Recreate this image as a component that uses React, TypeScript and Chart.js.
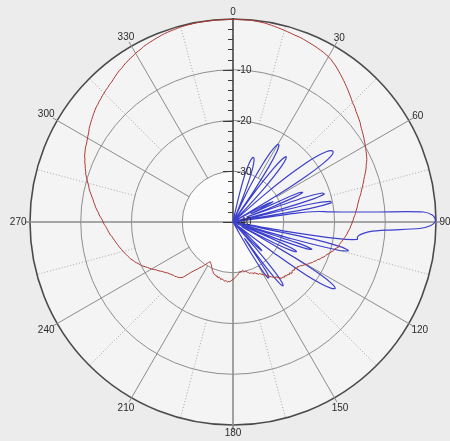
import React, { useEffect, useRef } from "react";
import { Chart, registerables } from "chart.js";

Chart.register(...registerables);

// one category per degree (0..359), clockwise from the top
const degreeLabels: string[] = Array.from({ length: 360 }, (_, i) => String(i));
const angleTickDegrees = [0, 30, 60, 90, 120, 150, 180, 210, 240, 270, 300, 330];
const angleTickLabels = ["0", "30", "60", "90", "120", "150", "180", "210", "240", "270", "300", "330"];
const levelTickValues = [-10, -20, -30, -40];
const levelTickLabels = ["-10", "-20", "-30", "-40"];
const levelMin = -40;
const levelMax = 0;

// red pattern (dB), index = degree
const redPattern = [
  -0.1, -0.1, -0.1, -0.1, -0.1, -0.1, -0.15, -0.2, -0.25, -0.3,
  -0.4, -0.5, -0.6, -0.7, -0.8, -0.9, -1.0, -1.1, -1.2, -1.25,
  -1.3, -1.4, -1.5, -1.6, -1.7, -1.8, -1.9, -2.0, -2.1, -2.25,
  -2.4, -2.6, -2.85, -3.1, -3.4, -3.7, -4.0, -4.3, -4.6, -4.9,
  -5.2, -5.5, -5.8, -6.1, -6.4, -6.7, -6.9, -7.1, -7.4, -7.6,
  -7.8, -8.0, -8.2, -8.5, -8.7, -8.9, -9.1, -9.3, -9.5, -9.7,
  -9.9, -10.1, -10.3, -10.5, -10.7, -10.9, -11.2, -11.5, -11.7, -12.0,
  -12.3, -12.6, -12.9, -13.1, -13.4, -13.6, -13.9, -14.1, -14.3, -14.6,
  -14.8, -15.0, -15.2, -15.3, -15.5, -15.7, -15.8, -16.0, -16.2, -16.3,
  -16.5, -16.6, -16.8, -16.9, -17.1, -17.3, -17.4, -17.6, -17.8, -18.0,
  -18.2, -18.4, -18.6, -18.5, -18.9, -19.3, -19.4, -19.8, -20.0, -20.4,
  -20.6, -20.8, -21.2, -21.3, -21.8, -21.9, -22.3, -22.4, -22.8, -23.0,
  -23.3, -23.6, -23.8, -24.2, -24.3, -24.6, -24.4, -24.8, -24.6, -24.9,
  -24.8, -24.6, -25.0, -24.8, -25.1, -25.0, -25.3, -25.1, -25.4, -25.3,
  -25.6, -25.9, -26.3, -26.2, -26.6, -26.8, -27.1, -27.3, -27.6, -27.8,
  -28.0, -28.2, -28.4, -28.6, -28.5, -28.8, -28.9, -29.2, -29.0, -29.2,
  -29.3, -29.4, -29.3, -29.6, -29.7, -29.9, -30.0, -29.9, -30.2, -30.3,
  -30.2, -30.0, -30.2, -29.9, -29.8, -29.5, -29.4, -29.2, -29.0, -28.8,
  -28.7, -28.5, -28.4, -28.2, -28.3, -28.1, -28.2, -28.4, -28.2, -28.4,
  -28.5, -28.6, -28.4, -28.7, -28.8, -28.6, -28.9, -28.8, -29.0, -29.0,
  -29.1, -29.2, -29.5, -29.6, -29.9, -30.1, -30.3, -30.6, -30.7, -30.9,
  -31.0, -30.7, -30.4, -30.0, -29.6, -29.2, -28.9, -28.4, -28.0, -27.5,
  -27.0, -26.2, -25.4, -25.0, -24.8, -24.6, -24.5, -24.3, -24.3, -24.1,
  -24.0, -23.8, -23.7, -23.4, -23.2, -23.0, -22.7, -22.4, -22.2, -21.8,
  -21.5, -21.2, -20.9, -20.6, -20.2, -19.9, -19.7, -19.4, -19.1, -18.9,
  -18.6, -18.4, -18.2, -18.0, -17.8, -17.6, -17.4, -17.2, -17.0, -16.8,
  -16.6, -16.4, -16.2, -16.0, -15.7, -15.5, -15.3, -15.1, -14.9, -14.6,
  -14.4, -14.2, -13.9, -13.6, -13.4, -13.1, -12.8, -12.6, -12.3, -12.1,
  -11.8, -11.5, -11.2, -10.9, -10.7, -10.4, -10.1, -9.8, -9.5, -9.3,
  -9.0, -8.8, -8.5, -8.3, -8.0, -7.8, -7.6, -7.4, -7.3, -7.1,
  -6.9, -6.7, -6.5, -6.2, -6.0, -5.8, -5.6, -5.4, -5.2, -5.0,
  -4.8, -4.7, -4.5, -4.4, -4.2, -4.1, -3.9, -3.8, -3.6, -3.5,
  -3.3, -3.1, -2.9, -2.7, -2.6, -2.4, -2.2, -2.1, -1.9, -1.8,
  -1.6, -1.5, -1.4, -1.2, -1.1, -1.0, -0.9, -0.8, -0.7, -0.6,
  -0.5, -0.45, -0.4, -0.35, -0.3, -0.2, -0.2, -0.15, -0.15, -0.1,
  -0.1, -0.1, -0.1, -0.1, -0.1, -0.1, -0.1, -0.1, -0.1, -0.1,
];

// blue pattern (dB), index = degree
const bluePattern = [
  -40, -40, -40, -40, -40, -40, -40, -40, -40, -40,
  -40, -40, -38, -34, -30.5, -28.6, -27.3, -26.7, -26.7, -27.3,
  -28.6, -31, -35, -40, -40, -34, -30.5, -27.5, -25, -23.3,
  -22.3, -22.4, -23.8, -27, -33, -40, -32, -27, -24.3, -23.4,
  -23.8, -25.3, -28, -31.5, -36, -40, -40, -40, -40, -32,
  -26, -21.5, -18.7, -17, -16.1, -15.9, -16.6, -18.8, -23, -30,
  -40, -37, -33, -31.2, -34, -36, -25.8, -25.1, -26.8, -32,
  -37, -25, -21.5, -21.2, -23.5, -30, -40, -24, -20.4, -20.3,
  -24.5, -40, -27, -23, -21, -17.4, -11.8, -2.4, -0.7, -0.2,
  -0.2, -1.0, -3.2, -9.5, -13, -14.2, -15, -15.3, -15.3, -19,
  -30, -40, -24, -18, -16.6, -18.5, -28, -40, -27, -23.6,
  -24.5, -31, -40, -33, -27.5, -26.2, -27, -31, -38, -34,
  -26, -20, -17, -16, -16.6, -18.6, -22.5, -29, -38, -40,
  -40, -40, -38, -35, -32.8, -32, -33.5, -37, -40, -33,
  -27, -24.6, -24, -25.3, -30, -36, -28.5, -27, -27, -29,
  -33, -38, -40, -40, -40, -40, -40, -40, -40, -40,
  -40, -40, -40, -40, -40, -40, -40, -40, -40, -40,
  -40, -40, -40, -40, -40, -40, -40, -40, -40, -40,
  -40, -40, -40, -40, -40, -40, -40, -40, -40, -40,
  -40, -40, -40, -40, -40, -40, -40, -40, -40, -40,
  -40, -40, -40, -40, -40, -40, -40, -40, -40, -40,
  -40, -40, -40, -40, -40, -40, -40, -40, -40, -40,
  -40, -40, -40, -40, -40, -40, -40, -40, -40, -40,
  -40, -40, -40, -40, -40, -40, -40, -40, -40, -40,
  -40, -40, -40, -40, -40, -40, -40, -40, -40, -40,
  -40, -40, -40, -40, -40, -40, -40, -40, -40, -40,
  -40, -40, -40, -40, -40, -40, -40, -40, -40, -40,
  -40, -40, -40, -40, -40, -40, -40, -40, -40, -40,
  -40, -40, -40, -40, -40, -40, -40, -40, -40, -40,
  -40, -40, -40, -40, -40, -40, -40, -40, -40, -40,
  -40, -40, -40, -40, -40, -40, -40, -40, -40, -40,
  -40, -40, -40, -40, -40, -40, -40, -40, -40, -40,
  -40, -40, -40, -40, -40, -40, -40, -40, -40, -40,
  -40, -40, -40, -40, -40, -40, -40, -40, -40, -40,
  -40, -40, -40, -40, -40, -40, -40, -40, -40, -40,
  -40, -40, -40, -40, -40, -40, -40, -40, -40, -40,
];

const FONT = '10px "Liberation Sans", Arial, sans-serif';

const polarDecor = {
  id: "polarDecor",
  beforeDraw(chart: any) {
    const s = chart.scales.r;
    const ctx = chart.ctx;
    const R = s.getDistanceFromCenterForValue(levelMax);
    const r30 = s.getDistanceFromCenterForValue(-30);
    ctx.save();
    ctx.fillStyle = "#ececec";
    ctx.fillRect(0, 0, chart.width, chart.height);
    ctx.fillStyle = "#f4f4f4";
    ctx.beginPath();
    ctx.arc(s.xCenter, s.yCenter, R, 0, Math.PI * 2);
    ctx.fill();
    ctx.fillStyle = "#fbfbfb";
    ctx.beginPath();
    ctx.arc(s.xCenter, s.yCenter, r30, 0, Math.PI * 2);
    ctx.fill();
    ctx.restore();
  },
  beforeDatasetsDraw(chart: any) {
    const s = chart.scales.r;
    const ctx = chart.ctx;
    const n = chart.data.labels.length;
    const idx = (deg: number) => (deg * n) / 360;
    const R = s.getDistanceFromCenterForValue(levelMax);
    const r20 = s.getDistanceFromCenterForValue(-20);
    const r30 = s.getDistanceFromCenterForValue(-30);
    const spoke = (deg: number, from: number, to: number, color: string, width: number, dash: number[]) => {
      const a = s.getPointPosition(idx(deg), from);
      const b = s.getPointPosition(idx(deg), to);
      ctx.save();
      ctx.strokeStyle = color;
      ctx.lineWidth = width;
      ctx.setLineDash(dash);
      ctx.beginPath();
      ctx.moveTo(a.x, a.y);
      ctx.lineTo(b.x, b.y);
      ctx.stroke();
      ctx.restore();
    };
    for (const deg of angleTickDegrees) {
      spoke(deg + 15, r20, R, "#a8a8a8", 1, [1, 2]);
    }
    for (const deg of angleTickDegrees) {
      if (deg === 0) spoke(0, 0, R + 1, "#3a3a3a", 1.5, []);
      else if (deg % 90 === 0) spoke(deg, 0, R + 5, "#8c8c8c", 1.6, []);
      else spoke(deg, r30, R + 5, "#8c8c8c", 1, []);
    }
    ctx.save();
    ctx.strokeStyle = "#3a3a3a";
    ctx.lineWidth = 1;
    for (let v = levelMin; v <= levelMax; v += 2) {
      const y = Math.round(s.yCenter - s.getDistanceFromCenterForValue(v)) + 0.5;
      const len = v % 10 === 0 ? 10 : 5;
      ctx.beginPath();
      ctx.moveTo(s.xCenter - len, y);
      ctx.lineTo(s.xCenter, y);
      ctx.stroke();
    }
    ctx.restore();
  },
  afterDraw(chart: any) {
    const s = chart.scales.r;
    const ctx = chart.ctx;
    const n = chart.data.labels.length;
    const R = s.getDistanceFromCenterForValue(levelMax);
    ctx.save();
    ctx.font = FONT;
    ctx.fillStyle = "#2a2a2a";
    ctx.textAlign = "center";
    ctx.textBaseline = "middle";
    angleTickDegrees.forEach((deg, i) => {
      const text = angleTickLabels[i];
      const w = ctx.measureText(text).width;
      const a = (deg * Math.PI) / 180;
      const d = R + 3.5 + Math.abs(Math.sin(a)) * (w / 2) + Math.abs(Math.cos(a)) * 4;
      const p = s.getPointPosition((deg * n) / 360, d);
      ctx.fillText(text, p.x, p.y + 0.5);
    });
    ctx.textAlign = "left";
    levelTickValues.forEach((v, i) => {
      const y = s.yCenter - s.getDistanceFromCenterForValue(v);
      ctx.fillText(levelTickLabels[i], s.xCenter + 4, y + 0.5);
    });
    ctx.restore();
  },
};

export default function App() {
  const canvasRef = useRef<HTMLCanvasElement | null>(null);

  useEffect(() => {
    if (!canvasRef.current) return;
    const chart = new Chart(canvasRef.current, {
      type: "radar",
      data: {
        labels: degreeLabels,
        datasets: [
          {
            label: "red",
            data: redPattern,
            borderColor: "#ad3a36",
            borderWidth: 1,
            pointRadius: 0,
            pointHoverRadius: 0,
            fill: false,
            tension: 0,
          },
          {
            label: "blue",
            data: bluePattern,
            borderColor: "#3c40cc",
            borderWidth: 1.2,
            pointRadius: 0,
            pointHoverRadius: 0,
            fill: false,
            tension: 0.3,
          },
        ],
      },
      options: {
        animation: false,
        responsive: false,
        devicePixelRatio: 1,
        layout: { padding: { left: 30, right: 14, top: 19, bottom: 16 } },
        plugins: { legend: { display: false }, tooltip: { enabled: false }, title: { display: false } },
        events: [],
        scales: {
          r: {
            min: levelMin,
            max: levelMax,
            startAngle: 0,
            ticks: { display: false, stepSize: 10 },
            pointLabels: { display: false },
            angleLines: { display: false },
            grid: {
              circular: true,
              color: (c: any) => (c.tick && c.tick.value === 0 ? "#4a4a4a" : "#8e8e8e"),
              lineWidth: (c: any) => (c.tick && c.tick.value === 0 ? 1.6 : 1),
            },
          },
        },
      },
      plugins: [polarDecor],
    } as any);
    return () => chart.destroy();
  }, []);

  return (
    <div style={{ position: "absolute", left: 0, top: 0, width: 450, height: 441 }}>
      <canvas ref={canvasRef} width={450} height={441} style={{ display: "block" }} />
    </div>
  );
}
